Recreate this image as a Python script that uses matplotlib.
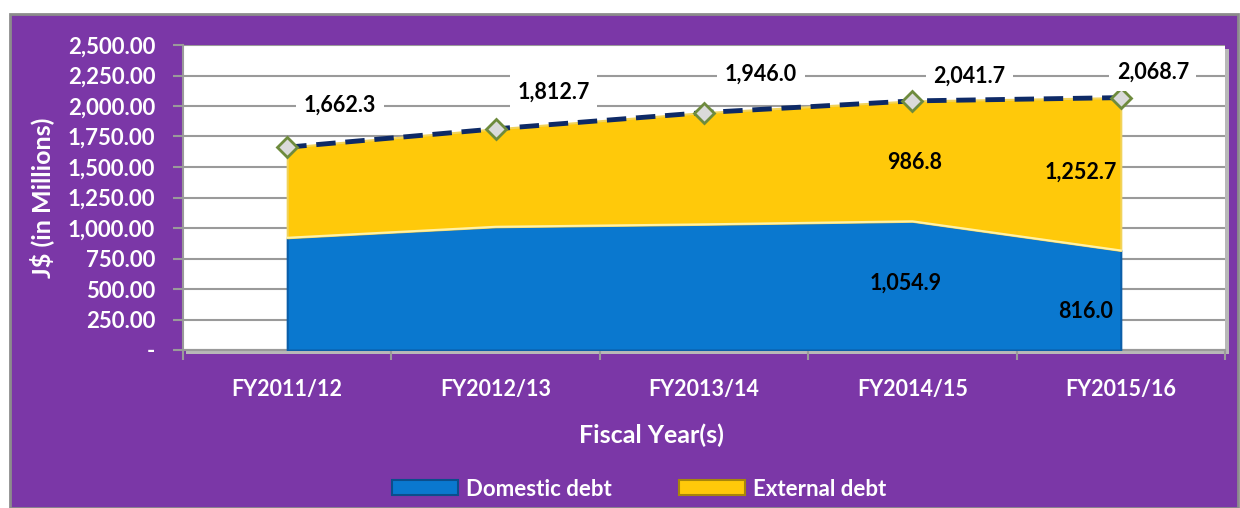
import numpy as np
import matplotlib
matplotlib.use("Agg")
import matplotlib.pyplot as plt
from matplotlib.patches import Rectangle

plt.rcParams['font.family'] = ['Lato', 'DejaVu Sans']
plt.rcParams['font.weight'] = 'bold'

# veri
years = ["FY2011/12", "FY2012/13", "FY2013/14", "FY2014/15", "FY2015/16"]
domestic = [920.0, 1010.0, 1030.0, 1054.9, 816.0]
external = [742.3, 802.7, 916.0, 986.8, 1252.7]
total = [1662.3, 1812.7, 1946.0, 2041.7, 2068.7]

# etiket kaydirmalari (piksel)
total_offsets = [(53, 42), (58, 37), (57, 38), (57, 25), (32, 25)]

purple = '#7B37A7'
blue = '#0A78CF'
yellow = '#FFC90A'
navy = '#0E2A66'
grey = '#9A9A9A'
fs = 15.5

fig = plt.figure(figsize=(12.4, 5.08), dpi=100)
fig.patch.set_facecolor('white')
fig.patches.append(Rectangle((10 / 1240, 0), 1228 / 1240, 1 - 14 / 508,
                             transform=fig.transFigure, facecolor=purple,
                             edgecolor='#8C8C8C', linewidth=2, zorder=-10))
# plot alani golgesi
fig.patches.append(Rectangle((186 / 1240, 1 - 354 / 508), 1043 / 1240, 305 / 508,
                             transform=fig.transFigure, facecolor='#B8B8B8',
                             edgecolor='none', zorder=-5))

ax = fig.add_axes([183 / 1240, 1 - 350 / 508, 1042 / 1240, 305 / 508])
ax.set_facecolor('white')

x = np.arange(len(years))
ax.fill_between(x, 0, domestic, color=blue, edgecolor='#0B5EA8', linewidth=1.5, zorder=3)
top = np.array(domestic) + np.array(external)
ax.fill_between(x, domestic, top, color=yellow, edgecolor='#F2D35A', linewidth=1.5, zorder=3)
ax.plot(x, domestic, color='#FFF2A8', linewidth=1.5, zorder=4)

ax.plot(x, total, color=navy, linewidth=3.5, linestyle=(0, (4, 2)), zorder=5)
ax.plot(x, total, linestyle='none', marker='D', markersize=10,
        markerfacecolor='#DADADA', markeredgecolor='#6E8B3D', markeredgewidth=2, zorder=6)

for i, v in enumerate(total):
    ax.annotate(f"{v:,.1f}", (x[i], v), xytext=total_offsets[i], textcoords='offset pixels',
                ha='center', va='center', fontsize=fs, fontweight='bold', color='black',
                bbox=dict(boxstyle='square,pad=0.35', facecolor='white', edgecolor='none'),
                zorder=7)

# sadece son iki yilin dilim etiketleri
ax.text(3 - 0.03, 1054.9 * 0.52, f"{domestic[3]:,.1f}", ha='center', va='center',
        fontsize=fs, fontweight='bold', zorder=7)
ax.text(4 - 0.17, 816.0 * 0.39, f"{domestic[4]:,.1f}", ha='center', va='center',
        fontsize=fs, fontweight='bold', zorder=7)
ax.text(3 + 0.01, 1535, f"{external[3]:,.1f}", ha='center', va='center',
        fontsize=fs, fontweight='bold', zorder=7)
ax.text(4 - 0.19, 1460, f"{external[4]:,.1f}", ha='center', va='center',
        fontsize=fs, fontweight='bold', zorder=7)

ax.set_xlim(-0.5, 4.5)
ax.set_ylim(0, 2500)
yt = np.arange(0, 2501, 250)
ax.set_yticks(yt)
ax.set_yticklabels(['-' if v == 0 else f"{v:,.2f}" for v in yt])
ax.grid(axis='y', color=grey, linewidth=1.5, zorder=0)
ax.set_axisbelow(True)

ax.set_xticks(x)
ax.set_xticklabels(years)
ax.set_xticks(np.arange(-0.5, 4.6, 1), minor=True)
ax.tick_params(axis='x', which='major', length=0, pad=21, labelsize=fs, labelcolor='white')
ax.tick_params(axis='x', which='minor', length=7, width=1.5, color=grey, direction='out')
ax.tick_params(axis='y', length=7, width=1.5, color=grey, direction='out',
               pad=13, labelsize=16, labelcolor='white')

for s in ['top', 'right']:
    ax.spines[s].set_visible(False)
for s in ['left', 'bottom']:
    ax.spines[s].set_color(grey)
    ax.spines[s].set_linewidth(1.5)

fig.text(42 / 1240, 1 - 198 / 508, "J$ (in Millions)", rotation=90, ha='center', va='center',
         fontsize=18, fontweight='bold', color='white')
fig.text(651 / 1240, 1 - 435 / 508, "Fiscal Year(s)", ha='center', va='center',
         fontsize=18, fontweight='bold', color='white')

handles = [Rectangle((0, 0), 1, 1, facecolor=blue, edgecolor='#0B4E8C', linewidth=1.5),
           Rectangle((0, 0), 1, 1, facecolor=yellow, edgecolor='#A8860A', linewidth=1.5)]
leg = fig.legend(handles, ["Domestic debt", "External debt"], loc='center',
                 bbox_to_anchor=(639 / 1240, 1 - 489 / 508), ncol=2, frameon=False,
                 fontsize=16, handlelength=3.0, handleheight=0.65, handletextpad=0.35,
                 columnspacing=3.0)
for t in leg.get_texts():
    t.set_color('white')
    t.set_fontweight('bold')

fig.savefig('out.png', dpi=100, facecolor=fig.get_facecolor())
